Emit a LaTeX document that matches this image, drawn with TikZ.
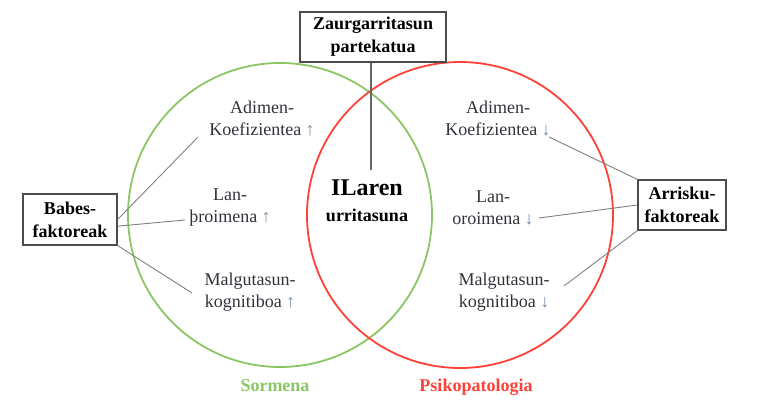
\documentclass[tikz,border=0pt]{standalone}
\usepackage{fontspec}
\setmainfont{Liberation Serif}
\definecolor{sorgreen}{RGB}{140,198,100}
\definecolor{psired}{RGB}{255,66,56}
\definecolor{txtgray}{RGB}{50,50,60}
\definecolor{arrgray}{RGB}{120,140,165}
\tikzset{
  factbox/.style={draw=black!70, line width=1.2pt, align=center, inner sep=0pt,
    font=\fontsize{18}{23}\selectfont\bfseries},
  itemtxt/.style={align=center, inner sep=0pt, text=txtgray,
    font=\fontsize{18}{22}\selectfont},
  link/.style={draw=black!50, line width=0.9pt}
}
\newcommand{\upar}{\textcolor{arrgray}{↑}}
\newcommand{\dnar}{\textcolor{arrgray}{↓}}
\begin{document}
\begin{tikzpicture}[x=1pt, y=-1pt]
\useasboundingbox (0,0) rectangle (768,406);
\draw[sorgreen, line width=1.8pt] (280,215) circle (152);
\draw[psired, line width=1.8pt] (460,215) circle (153);

\node[factbox, minimum width=146, minimum height=50] (Z) at (373,37) {Zaurgarritasun\\partekatua};
\node[factbox, minimum width=94, minimum height=51] (B) at (70,219.5) {Babes-\\faktoreak};
\node[factbox, minimum width=88, minimum height=50] (R) at (682,205) {Arrisku-\\faktoreak};

\node[font=\fontsize{24}{28}\selectfont\bfseries, inner sep=0pt] (IL) at (367,188) {ILaren};
\node[font=\fontsize{18}{22}\selectfont\bfseries, inner sep=0pt] (U) at (367,215) {urritasuna};

\node[itemtxt] (LA) at (262,119) {Adimen-\\Koefizientea \upar};
\node[itemtxt] (LL) at (230,207.5) {Lan-\\þroimena \upar};
\node[itemtxt] (LM) at (250,292) {Malgutasun-\\kognitiboa \upar};
\node[itemtxt] (RA) at (498,119) {Adimen-\\Koefizientea \dnar};
\node[itemtxt] (RL) at (493,207.5) {Lan-\\oroimena \dnar};
\node[itemtxt] (RM) at (504,292) {Malgutasun-\\kognitiboa \dnar};

\node[sorgreen, font=\fontsize{18}{22}\selectfont\bfseries, anchor=base] (S) at (275,391) {Sormena};
\node[psired, font=\fontsize{18}{22}\selectfont\bfseries, anchor=base] (P) at (476,391) {Psikopatologia};

\coordinate (zt) at (371,170);
\coordinate (b1) at (198,137);
\coordinate (b2) at (185,220);
\coordinate (b3) at (192,293);
\coordinate (r1) at (549,137);
\coordinate (r2) at (539,218);
\coordinate (r3) at (564,286);

\draw[draw=black!60, line width=1.2pt] (Z.south -| zt) -- (zt);
\draw[link] (B.east) -- (b1);
\draw[link] (B.-8) -- (b2);
\draw[link] (B.south east) -- (b3);
\draw[link] (R.north west) -- (r1);
\draw[link] (R.west) -- (r2);
\draw[link] (R.south west) -- (r3);
\end{tikzpicture}
\end{document}
